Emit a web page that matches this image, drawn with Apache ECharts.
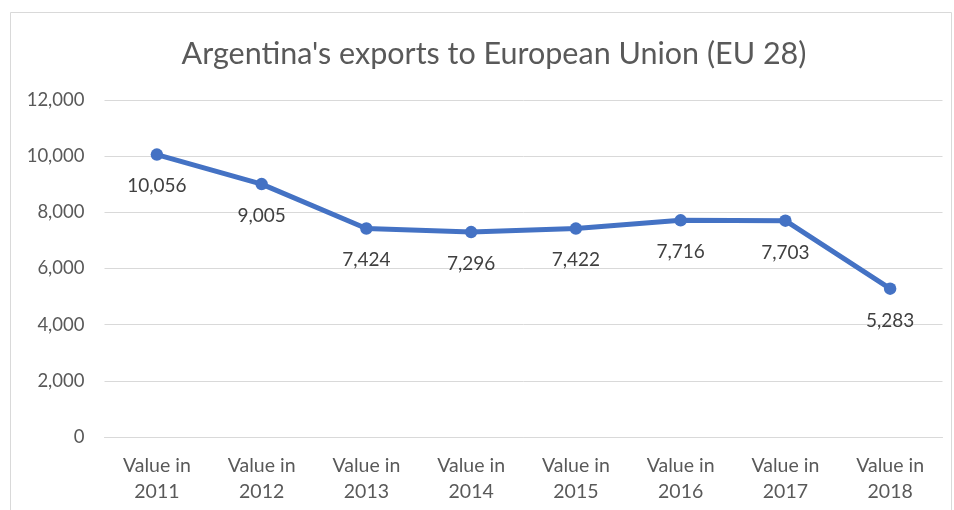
<!DOCTYPE html>
<html><head><meta charset="utf-8">
<script src="https://cdn.jsdelivr.net/npm/echarts@6/dist/echarts.min.js"></script>
<style>html,body{margin:0;padding:0;background:#fff}#c{width:954px;height:510px}</style>
</head><body><div id="c"></div>
<script>
const categories = ['Value in\n2011','Value in\n2012','Value in\n2013','Value in\n2014','Value in\n2015','Value in\n2016','Value in\n2017','Value in\n2018'];
const values = [10056, 9005, 7424, 7296, 7422, 7716, 7703, 5283];
const yTicks = {min: 0, max: 12000, interval: 2000};
const title = "Argentina's exports to European Union (EU 28)";
const FONT = 'Lato';
const chart = echarts.init(document.getElementById('c'));
chart.setOption({
  animation: false,
  backgroundColor: '#fff',
  graphic: [{type:'rect', shape:{x:10.5,y:12.5,width:941,height:520}, style:{fill:'none',stroke:'#d9d9d9',lineWidth:1}, silent:true, z:-1}],
  title: {text: title, left: 489, textAlign: 'center', top: 34, textStyle:{fontFamily:FONT, fontSize:30.5, fontWeight:'normal', color:'#595959'}},
  grid: {left: 104.5, right: 11.5, top: 100, bottom: 73, containLabel:false},
  xAxis: {type:'category', data: categories, boundaryGap:true,
    axisLine:{show:true, lineStyle:{color:'#d9d9d9'}}, axisTick:{show:false},
    axisLabel:{fontFamily:FONT, fontSize:19.5, color:'#595959', lineHeight:26, margin:16, interval:0}},
  yAxis: {type:'value', min: yTicks.min, max: yTicks.max, interval: yTicks.interval,
    axisLine:{show:false}, axisTick:{show:false},
    splitLine:{lineStyle:{color:'#d9d9d9', width:1}},
    axisLabel:{fontFamily:FONT, fontSize:18.5, color:'#595959', margin:20,
      formatter: v => v.toLocaleString('en-US')}},
  series: [{type:'line', data: values, symbol:'circle', symbolSize:12.5,
    lineStyle:{color:'#4472C4', width:5}, itemStyle:{color:'#4472C4'},
    label:{show:true, position:'bottom', distance:16, fontFamily:FONT, fontSize:19, color:'#404040',
      formatter: p => p.value.toLocaleString('en-US')}}]
});
</script></body></html>
